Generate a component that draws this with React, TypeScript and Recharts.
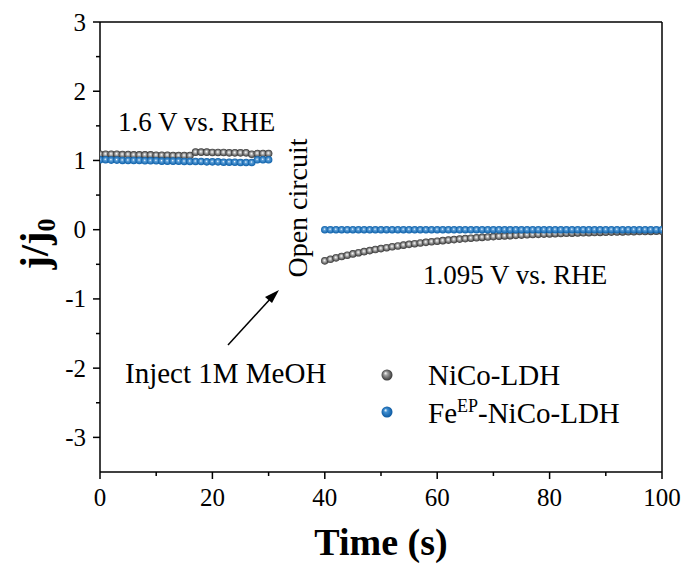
import React from "react";
import { ScatterChart, Scatter, XAxis, YAxis, ReferenceLine, Customized } from "recharts";

const timeOn = [0,1,2,3,4,5,6,7,8,9,10,11,12,13,14,15,16,17,18,19,20,21,22,23,24,25,26,27,28,29,30];
const nicoOn = [1.09,1.09,1.09,1.09,1.085,1.085,1.08,1.08,1.08,1.08,1.075,1.075,1.075,1.07,1.07,1.07,1.07,1.12,1.12,1.12,1.115,1.115,1.115,1.11,1.11,1.11,1.11,1.09,1.1,1.1,1.1];
const feOn = [1.01,1.01,1.005,1.005,1.0,1.0,1.0,1.0,0.995,0.995,0.995,0.99,0.99,0.99,0.99,0.985,0.985,0.985,0.985,0.98,0.98,0.98,0.975,0.975,0.975,0.97,0.97,0.97,1.01,1.01,1.01];

const timeOff = [40,41,42,43,44,45,46,47,48,49,50,51,52,53,54,55,56,57,58,59,60,61,62,63,64,65,66,67,68,69,70,71,72,73,74,75,76,77,78,79,80,81,82,83,84,85,86,87,88,89,90,91,92,93,94,95,96,97,98,99,100];
const nicoOff = [-0.45,-0.428,-0.407,-0.387,-0.369,-0.35,-0.333,-0.317,-0.302,-0.287,-0.273,-0.26,-0.247,-0.235,-0.223,-0.212,-0.202,-0.192,-0.183,-0.174,-0.166,-0.158,-0.15,-0.143,-0.136,-0.129,-0.123,-0.117,-0.111,-0.106,-0.1,-0.095,-0.091,-0.086,-0.082,-0.078,-0.074,-0.07,-0.067,-0.064,-0.061,-0.058,-0.055,-0.052,-0.05,-0.047,-0.045,-0.043,-0.041,-0.039,-0.037,-0.035,-0.033,-0.032,-0.03,-0.029,-0.027,-0.026,-0.025,-0.023,-0.022];
const feOff = [0,0,0,0,0,0,0,0,0,0,0,0,0,0,0,0,0,0,0,0,0,0,0,0,0,0,0,0,0,0,0,0,0,0,0,0,0,0,0,0,0,0,0,0,0,0,0,0,0,0,0,0,0,0,0,0,0,0,0,0,0];

const xTicks = [0,10,20,30,40,50,60,70,80,90,100];
const xLabels = [0,20,40,60,80,100];
const yTicks = [-3,-2.5,-2,-1.5,-1,-0.5,0,0.5,1,1.5,2,2.5,3];
const yLabels = [-3,-2,-1,0,1,2,3];

const seriesNames = ["NiCo-LDH", "Fe", "EP", "-NiCo-LDH"];

const FONT = "'Liberation Serif', 'Times New Roman', serif";

const nicoData = [...timeOn.map((t, i) => ({ x: t, y: nicoOn[i] })), ...timeOff.map((t, i) => ({ x: t, y: nicoOff[i] }))];
const feData = [...timeOn.map((t, i) => ({ x: t, y: feOn[i] })), ...timeOff.map((t, i) => ({ x: t, y: feOff[i] }))];

const makeShape = (grad: string) => (props: any) => (
  <circle cx={props.cx} cy={props.cy} r={3.8} fill={`url(#${grad})`} />
);

const XTick = (props: any) => {
  const { x, y, payload } = props;
  const major = xLabels.includes(payload.value);
  return (
    <g>
      <line x1={x} y1={y} x2={x} y2={y + (major ? 7 : 4)} stroke="#000" strokeWidth={1.5} />
      {major && (
        <text x={x} y={y + 34} textAnchor="middle" fontFamily={FONT} fontSize={25} fill="#000">
          {payload.value}
        </text>
      )}
    </g>
  );
};

const YTick = (props: any) => {
  const { x, y, payload } = props;
  const major = yLabels.includes(payload.value);
  return (
    <g>
      <line x1={x - (major ? 7 : 4)} y1={y} x2={x} y2={y} stroke="#000" strokeWidth={1.5} />
      {major && (
        <text x={x - 14} y={y + 8.5} textAnchor="end" fontFamily={FONT} fontSize={25} fill="#000">
          {payload.value}
        </text>
      )}
    </g>
  );
};

const Annotations = () => (
  <g fontFamily={FONT} fill="#000">
    <text x={118} y={131} fontSize={27}>1.6 V vs. RHE</text>
    <text x={423} y={284} fontSize={27}>1.095 V vs. RHE</text>
    <text x={125} y={383} fontSize={29}>Inject 1M MeOH</text>
    <text transform="rotate(-90)" x={-208} y={307} textAnchor="middle" fontSize={28}>Open circuit</text>
    <line x1={228} y1={345} x2={272} y2={297} stroke="#000" strokeWidth={1.5} />
    <polygon points="279,290 265,297 272,303" fill="#000" />
    <circle cx={387} cy={375} r={5.5} fill="url(#gGrayL)" />
    <circle cx={387} cy={412} r={5.5} fill="url(#gBlueL)" />
    <text x={428} y={385} fontSize={29}>{seriesNames[0]}</text>
    <text x={428} y={423} fontSize={29}>
      {seriesNames[1]}
      <tspan fontSize={18} dy={-11}>{seriesNames[2]}</tspan>
      <tspan dy={11}>{seriesNames[3]}</tspan>
    </text>
    <text x={381} y={555} textAnchor="middle" fontSize={38} fontWeight="bold">Time (s)</text>
    <text transform="rotate(-90)" x={-244} y={48} textAnchor="middle" fontSize={40} fontWeight="bold">
      j/j<tspan fontSize={26} dy={7}>0</tspan>
    </text>
  </g>
);

export default function App() {
  return (
    <div style={{ position: "absolute", left: 0, top: 0, width: 689, height: 565, background: "#fff" }}>
      <svg width={0} height={0} style={{ position: "absolute" }}>
        <defs>
          <radialGradient id="gGray" cx="50%" cy="50%" r="50%" fx="45%" fy="42%">
            <stop offset="0%" stopColor="#ffffff" />
            <stop offset="30%" stopColor="#bdbdbd" />
            <stop offset="100%" stopColor="#333333" />
          </radialGradient>
          <radialGradient id="gBlue" cx="50%" cy="50%" r="50%" fx="45%" fy="42%">
            <stop offset="0%" stopColor="#ffffff" />
            <stop offset="30%" stopColor="#5c9fd8" />
            <stop offset="100%" stopColor="#0a5ea8" />
          </radialGradient>
          <radialGradient id="gGrayL" cx="50%" cy="50%" r="55%" fx="35%" fy="32%">
            <stop offset="0%" stopColor="#ffffff" />
            <stop offset="30%" stopColor="#a0a0a0" />
            <stop offset="100%" stopColor="#2a2a2a" />
          </radialGradient>
          <radialGradient id="gBlueL" cx="50%" cy="50%" r="55%" fx="35%" fy="32%">
            <stop offset="0%" stopColor="#ffffff" />
            <stop offset="30%" stopColor="#3f8fd2" />
            <stop offset="100%" stopColor="#06529a" />
          </radialGradient>
        </defs>
      </svg>
      <ScatterChart width={689} height={565} margin={{ top: 22, right: 27, bottom: 0, left: 0 }}>
        <XAxis
          type="number"
          dataKey="x"
          domain={[0, 100]}
          ticks={xTicks}
          interval={0}
          height={93}
          tickSize={0}
          tickMargin={0}
          tickLine={false}
          tick={<XTick />}
          axisLine={{ stroke: "#000", strokeWidth: 1.5 }}
          allowDataOverflow
        />
        <YAxis
          type="number"
          dataKey="y"
          domain={[-3.5, 3]}
          ticks={yTicks}
          interval={0}
          width={100}
          tickSize={0}
          tickMargin={0}
          tickLine={false}
          tick={<YTick />}
          axisLine={{ stroke: "#000", strokeWidth: 1.5 }}
          allowDataOverflow
        />
        <ReferenceLine y={3} stroke="#000" strokeWidth={1.5} />
        <ReferenceLine x={100} stroke="#000" strokeWidth={1.5} />
        <Scatter data={nicoData} shape={makeShape("gGray")} isAnimationActive={false} />
        <Scatter data={feData} shape={makeShape("gBlue")} isAnimationActive={false} />
        <Customized component={Annotations} />
      </ScatterChart>
    </div>
  );
}
